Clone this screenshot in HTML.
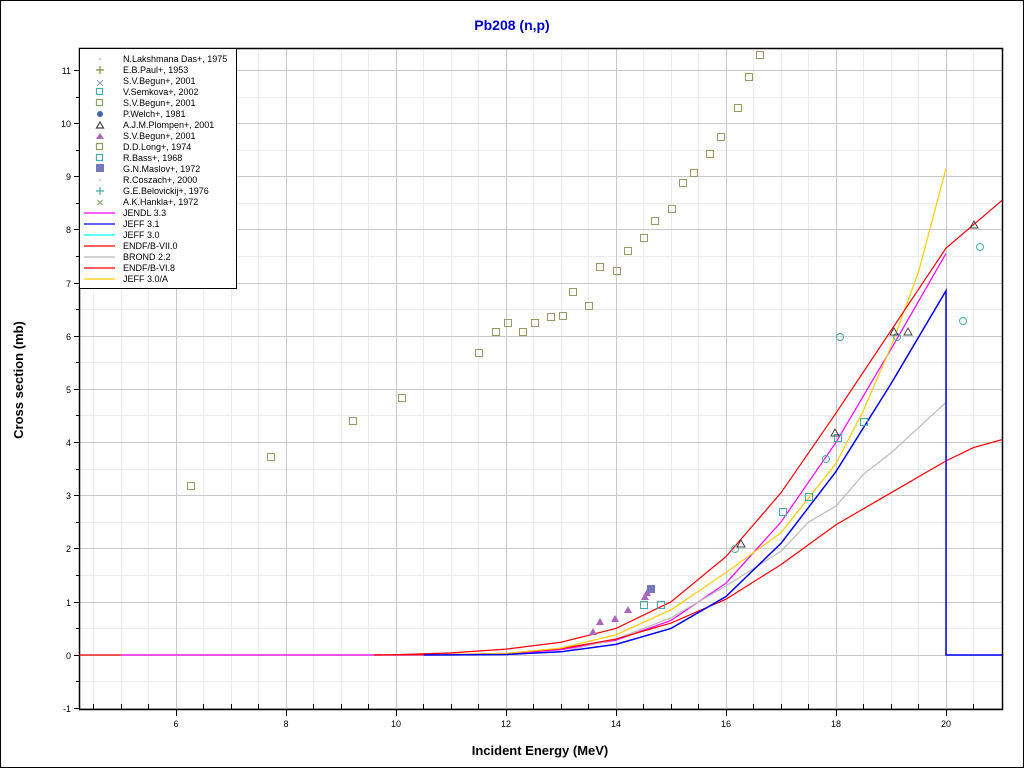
<!DOCTYPE html>
<html><head><meta charset="utf-8"><style>
body{margin:0;background:#fff;}
svg{display:block;font-family:"Liberation Sans",sans-serif;}
</style></head><body>
<svg width="1024" height="768" xmlns="http://www.w3.org/2000/svg">
<rect x="0.5" y="0.5" width="1023" height="767" fill="#fff" stroke="#000"/>
<text x="512" y="30" text-anchor="middle" font-size="14" font-weight="bold" fill="#0000cc">Pb208 (n,p)</text>
<!-- minor grid -->
<g stroke="#ececec" stroke-width="1">
<path d="M93.5 48V709M121.5 48V709M148.5 48V709M203.5 48V709M231.5 48V709M258.5 48V709M313.5 48V709M341.5 48V709M368.5 48V709M423.5 48V709M451.5 48V709M478.5 48V709M533.5 48V709M561.5 48V709M588.5 48V709M643.5 48V709M671.5 48V709M698.5 48V709M753.5 48V709M781.5 48V709M808.5 48V709M863.5 48V709M891.5 48V709M918.5 48V709M973.5 48V709"/>
<path d="M79 681.5H1002M79 628.5H1002M79 575.5H1002M79 522.5H1002M79 469.5H1002M79 415.5H1002M79 362.5H1002M79 309.5H1002M79 256.5H1002M79 203.5H1002M79 150.5H1002M79 97.5H1002"/>
</g>
<g stroke="#c8c8c8" stroke-width="1">
<path d="M176.5 48V709M286.5 48V709M396.5 48V709M506.5 48V709M616.5 48V709M726.5 48V709M836.5 48V709M946.5 48V709"/>
<path d="M79 708.5H1002M79 655.5H1002M79 602.5H1002M79 548.5H1002M79 495.5H1002M79 442.5H1002M79 389.5H1002M79 336.5H1002M79 283.5H1002M79 229.5H1002M79 176.5H1002M79 123.5H1002M79 70.5H1002"/>
</g>
<!-- axes -->
<rect x="79.5" y="48.5" width="923" height="661" fill="none" stroke="#000" stroke-width="1.5"/>
<g stroke="#000" stroke-width="1">
<path d="M74 708.5H79M74 655.5H79M74 602.5H79M74 548.5H79M74 495.5H79M74 442.5H79M74 389.5H79M74 336.5H79M74 283.5H79M74 229.5H79M74 176.5H79M74 123.5H79M74 70.5H79"/>
<path d="M76 681.5H79M76 628.5H79M76 575.5H79M76 522.5H79M76 469.5H79M76 415.5H79M76 362.5H79M76 309.5H79M76 256.5H79M76 203.5H79M76 150.5H79M76 97.5H79"/>
<path d="M176.5 709V716M286.5 709V716M396.5 709V716M506.5 709V716M616.5 709V716M726.5 709V716M836.5 709V716M946.5 709V716"/>
<path d="M93.5 709V704M121.5 709V704M148.5 709V704M203.5 709V704M231.5 709V704M258.5 709V704M313.5 709V704M341.5 709V704M368.5 709V704M423.5 709V704M451.5 709V704M478.5 709V704M533.5 709V704M561.5 709V704M588.5 709V704M643.5 709V704M671.5 709V704M698.5 709V704M753.5 709V704M781.5 709V704M808.5 709V704M863.5 709V704M891.5 709V704M918.5 709V704M973.5 709V704"/>
</g>
<g font-size="9" text-anchor="end">
<text x="71" y="712">-1</text><text x="71" y="659">0</text><text x="71" y="606">1</text><text x="71" y="552">2</text><text x="71" y="499">3</text><text x="71" y="446">4</text><text x="71" y="393">5</text><text x="71" y="340">6</text><text x="71" y="287">7</text><text x="71" y="233">8</text><text x="71" y="180">9</text><text x="71" y="127">10</text><text x="71" y="74">11</text>
</g>
<g font-size="9" text-anchor="middle">
<text x="176" y="727">6</text><text x="286" y="727">8</text><text x="396" y="727">10</text><text x="506" y="727">12</text><text x="616" y="727">14</text><text x="726" y="727">16</text><text x="836" y="727">18</text><text x="946" y="727">20</text>
</g>
<text x="540" y="755" text-anchor="middle" font-size="13" font-weight="bold">Incident Energy (MeV)</text>
<text transform="translate(23,380) rotate(-90)" text-anchor="middle" font-size="13" font-weight="bold">Cross section (mb)</text>
<!-- curves: data coords -->
<g transform="translate(176,655) scale(55,-53.18) translate(-6,0)" fill="none" stroke-width="1.2">
<polyline vector-effect="non-scaling-stroke" stroke="#ff0000" points="4.24,0 5,0"/>
<polyline vector-effect="non-scaling-stroke" stroke="#ff00ff" points="5,0 10,0 11,0.005 12,0.02 13,0.1 14,0.28 15,0.65 16,1.35 17,2.5 18,4.0 19,5.75 20,7.55"/>
<polyline vector-effect="non-scaling-stroke" stroke="#bbbbbb" points="10.5,0 12,0.01 13,0.06 14,0.3 15,0.7 16,1.3 17,1.95 17.5,2.5 18,2.8 18.5,3.4 19,3.8 20,4.75"/>
<polyline vector-effect="non-scaling-stroke" stroke="#ff0000" points="9.6,0 10,0.005 11,0.01 12,0.03 13,0.12 14,0.3 15,0.6 16,1.05 17,1.7 18,2.45 19,3.05 20,3.65 20.5,3.9 21.02,4.05"/>
<polyline vector-effect="non-scaling-stroke" stroke="#ffcc00" points="10.5,0 12,0.03 13,0.13 14,0.38 15,0.85 16,1.55 17,2.3 18,3.6 18.5,4.6 19,5.8 19.5,7.2 20,9.15"/>
<polyline vector-effect="non-scaling-stroke" stroke="#ff0000" points="9.6,0 10,0.005 11,0.04 12,0.11 13,0.24 14,0.5 15,1.0 16,1.85 17,3.05 18,4.55 19,6.1 20,7.65 21.02,8.55"/>
<polyline vector-effect="non-scaling-stroke" stroke="#0000ff" stroke-width="1.5" points="10.5,0 12,0.01 13,0.06 14,0.2 15,0.5 16,1.1 17,2.1 18,3.45 19,5.1 20,6.85 20,0 21.02,0"/>
</g>
<!-- D.D.Long squares -->
<g fill="none" stroke="#999966" stroke-width="1">
<rect x="187.5" y="482.5" width="7" height="7"/><rect x="267.5" y="453.5" width="7" height="7"/><rect x="349.5" y="417.5" width="7" height="7"/><rect x="398.5" y="394.5" width="7" height="7"/><rect x="475.5" y="349.5" width="7" height="7"/><rect x="492.5" y="328.5" width="7" height="7"/><rect x="504.5" y="319.5" width="7" height="7"/><rect x="519.5" y="328.5" width="7" height="7"/><rect x="531.5" y="319.5" width="7" height="7"/><rect x="547.5" y="313.5" width="7" height="7"/><rect x="559.5" y="312.5" width="7" height="7"/><rect x="569.5" y="288.5" width="7" height="7"/><rect x="585.5" y="302.5" width="7" height="7"/><rect x="596.5" y="263.5" width="7" height="7"/><rect x="613.5" y="267.5" width="7" height="7"/><rect x="624.5" y="247.5" width="7" height="7"/><rect x="640.5" y="234.5" width="7" height="7"/><rect x="651.5" y="217.5" width="7" height="7"/><rect x="668.5" y="205.5" width="7" height="7"/><rect x="679.5" y="179.5" width="7" height="7"/><rect x="690.5" y="169.5" width="7" height="7"/><rect x="706.5" y="150.5" width="7" height="7"/><rect x="717.5" y="133.5" width="7" height="7"/><rect x="734.5" y="104.5" width="7" height="7"/><rect x="745.5" y="73.5" width="7" height="7"/><rect x="756.5" y="51.5" width="7" height="7"/>
</g>
<!-- Semkova circles -->
<g fill="none" stroke="#44aaaa" stroke-width="1">
<circle cx="735" cy="549" r="3.5"/><circle cx="840" cy="337" r="3.5"/><circle cx="897" cy="337" r="3.5"/><circle cx="963" cy="321" r="3.5"/><circle cx="980" cy="247" r="3.5"/><circle cx="826" cy="459" r="3.5"/>
</g>
<!-- Bass boxed -->
<g fill="none" stroke="#44aaaa" stroke-width="1">
<rect x="779.5" y="508.5" width="7" height="7"/><rect x="805.5" y="493.5" width="7" height="7"/><rect x="834.5" y="434.5" width="7" height="7"/><rect x="860.5" y="418.5" width="7" height="7"/><rect x="640.5" y="601.5" width="7" height="7"/><rect x="657.5" y="601.5" width="7" height="7"/>
</g>
<!-- Plompen triangles -->
<g fill="none" stroke="#444" stroke-width="1">
<path d="M741 540l4 7h-8z M835 429l4 7h-8z M894 328l4 7h-8z M908 328l4 7h-8z M974 221l4 7h-8z"/>
</g>
<!-- purple triangles -->
<g fill="#aa66bb">
<path d="M593 628l4 7h-8z M600 618l4 7h-8z M615 615l4 7h-8z M628 606l4 7h-8z M645 593l4 7h-8z M647 589l4 7h-8z"/>
</g>
<rect x="647" y="585" width="8" height="8" fill="#7777bb"/>
<!-- legend -->
<rect x="79.5" y="48.5" width="157" height="240" fill="#fff" stroke="#000"/>
<g font-size="9">
<text x="123" y="62">N.Lakshmana Das+, 1975</text>
<text x="123" y="73">E.B.Paul+, 1953</text>
<text x="123" y="84">S.V.Begun+, 2001</text>
<text x="123" y="95">V.Semkova+, 2002</text>
<text x="123" y="106">S.V.Begun+, 2001</text>
<text x="123" y="117">P.Welch+, 1981</text>
<text x="123" y="128">A.J.M.Plompen+, 2001</text>
<text x="123" y="139">S.V.Begun+, 2001</text>
<text x="123" y="150">D.D.Long+, 1974</text>
<text x="123" y="161">R.Bass+, 1968</text>
<text x="123" y="172">G.N.Maslov+, 1972</text>
<text x="123" y="183">R.Coszach+, 2000</text>
<text x="123" y="194">G.E.Belovickij+, 1976</text>
<text x="123" y="205">A.K.Hankla+, 1972</text>
<text x="123" y="216">JENDL 3.3</text>
<text x="123" y="227">JEFF 3.1</text>
<text x="123" y="238">JEFF 3.0</text>
<text x="123" y="249">ENDF/B-VII.0</text>
<text x="123" y="260">BROND 2.2</text>
<text x="123" y="271">ENDF/B-VI.8</text>
<text x="123" y="282">JEFF 3.0/A</text>
</g>
<g stroke-width="1.2">
<circle cx="100" cy="59" r="0.8" fill="#999"/>
<path d="M96 70h8M100 66v8" stroke="#888844"/>
<path d="M97 80l6 6M103 80l-6 6" stroke="#9999bb"/>
<rect x="96.5" y="88.5" width="6" height="6" fill="none" stroke="#44aaaa"/>
<rect x="96.5" y="99.5" width="6" height="6" fill="none" stroke="#88aa66"/>
<circle cx="100" cy="114" r="3" fill="#4466aa"/>
<path d="M100 122l3.5 6h-7z" fill="none" stroke="#444"/>
<path d="M100 133l4 6h-8z" fill="#aa66bb"/>
<rect x="96.5" y="143.5" width="6" height="6" fill="none" stroke="#999966"/>
<rect x="96.5" y="154.5" width="6" height="6" fill="none" stroke="#44aaaa"/>
<rect x="96" y="164" width="8" height="8" fill="#7777bb"/>
<circle cx="100" cy="180" r="0.8" fill="#999"/>
<path d="M96 191h8M100 187v8" stroke="#44aaaa"/>
<path d="M97.5 200l5 5M102.5 200l-5 5" stroke="#88aa66"/>
<path d="M84 213h31" stroke="#ff00ff"/>
<path d="M84 224h31" stroke="#0000ff"/>
<path d="M84 235h31" stroke="#00ffff"/>
<path d="M84 246h31" stroke="#ff0000"/>
<path d="M84 257h31" stroke="#bbbbbb"/>
<path d="M84 268h31" stroke="#ff0000"/>
<path d="M84 279h31" stroke="#ffcc00"/>
</g>
</svg>
</body></html>
